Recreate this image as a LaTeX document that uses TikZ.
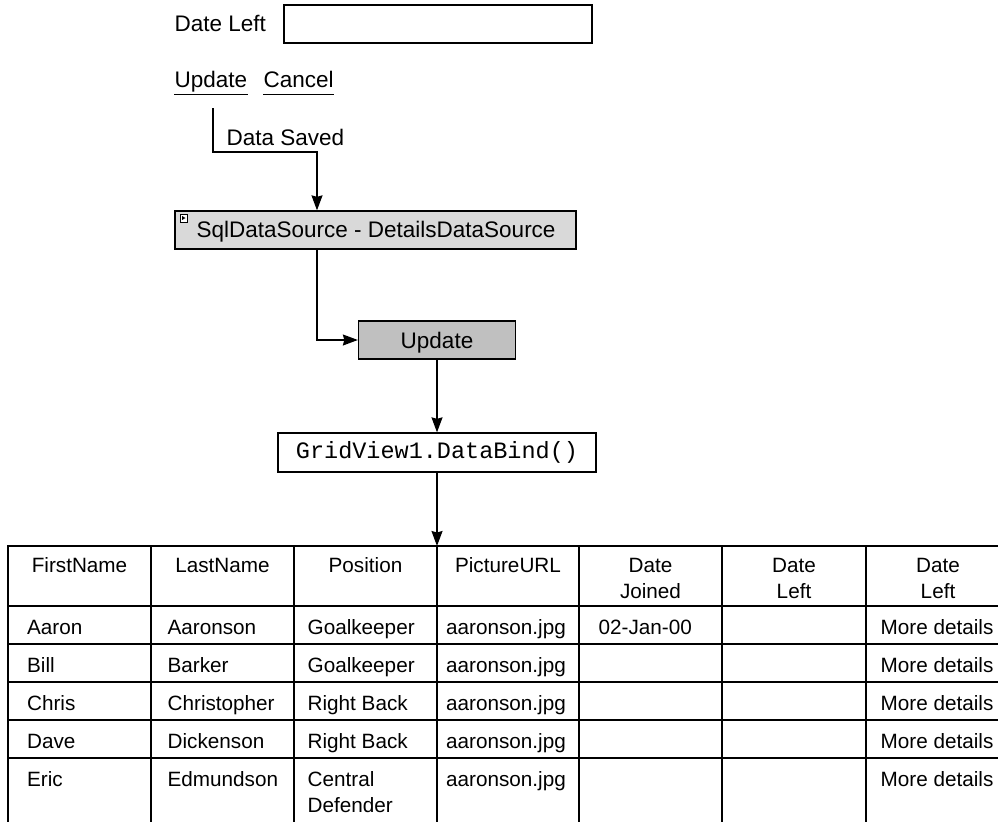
\documentclass[tikz,border=0pt]{standalone}
\usepackage{fontspec}
\setmainfont{Liberation Sans}
\setmonofont{Liberation Mono}
\usetikzlibrary{arrows.meta}
\definecolor{sqlgray}{RGB}{217,217,217}
\definecolor{updgray}{RGB}{192,192,192}
\begin{document}
\begin{tikzpicture}[x=1pt,y=-1pt, line width=1.3pt,
  toptxt/.style={font=\fontsize{22.5}{27}\selectfont, inner sep=0pt},
  tab/.style={font=\fontsize{20.7}{26}\selectfont, inner sep=0pt},
  box/.style={draw, inner sep=0pt},
  conn/.style={-{Stealth[length=15pt,width=11pt,inset=1.5pt]}, line width=1.3pt}]
\useasboundingbox (0,0) rectangle (998,822);

% --- top form ---
\node[toptxt, anchor=base west] (dl) at (174,31.7) {Date Left};
\node[box, minimum width=308pt, minimum height=38pt] (dlbox) at (438,24) {};
\node[toptxt, anchor=base west] (lupd) at (174,87.7) {Update};
\node[toptxt, anchor=base west] (lcan) at (263,87.7) {Cancel};
\draw[line width=1pt] ([yshift=-6.3pt]lupd.base west) -- ([yshift=-6.3pt]lupd.base east);
\draw[line width=1pt] ([yshift=-6.3pt]lcan.base west) -- ([yshift=-6.3pt]lcan.base east);

\coordinate (lk) at (213,108);
\coordinate (j1) at (317,152);

% --- SqlDataSource ---
\node[box, fill=sqlgray, minimum width=401pt, minimum height=38pt] (sql) at (375.5,230) {};
\node[toptxt, anchor=base west] (sqlt) at (196,237) {SqlDataSource - DetailsDataSource};
\node[draw, fill=white, line width=0.6pt, minimum width=7pt, minimum height=8pt, inner sep=0pt] (ico) at (183.5,218) {};
\fill ([shift={(-1.4,-2)}]ico.center) -- ([shift={(2,0)}]ico.center) -- ([shift={(-1.4,2)}]ico.center) -- cycle;

\draw[conn] (lk) |- (j1) -- (j1 |- sql.north);
\node[toptxt, anchor=base west] (ds) at (226,145) {Data Saved};

% --- Update ---
\node[box, fill=updgray, minimum width=157pt, minimum height=38pt, toptxt, text height=16pt, text depth=0pt] (upd) at (437,340) {Update};
\draw[conn] (sql.south -| j1) |- (upd.west);

% --- GridView ---
\node[box, fill=white, minimum width=318pt, minimum height=39pt, font=\ttfamily\fontsize{23.5}{28}\selectfont, text height=11pt, text depth=0pt] (gv) at (437,452.5) {GridView1.DataBind()};
\draw[conn] (upd.south) -- (gv.north);
\coordinate (tabtop) at (437,546);
\draw[conn] (gv.south) -- (tabtop);

% --- table grid ---
\foreach \x in {8,151,294,437,579,722,866} \draw (\x,545.35) -- (\x,822);
\foreach \y in {546,606,644,682,720,758} \draw (7.35,\y) -- (998,\y);

% header
\node[tab, anchor=base] (h1) at (79.5,572) {FirstName};
\node[tab, anchor=base] (h2) at (222.5,572) {LastName};
\node[tab, anchor=base] (h3) at (365.5,572) {Position};
\node[tab, anchor=base] (h4) at (508,572) {PictureURL};
\node[tab, anchor=base] (h5a) at (650.5,572) {Date};
\node[tab, anchor=base] (h5b) at (650.5,598) {Joined};
\node[tab, anchor=base] (h6a) at (794,572) {Date};
\node[tab, anchor=base] (h6b) at (794,598) {Left};
\node[tab, anchor=base] (h7a) at (938,572) {Date};
\node[tab, anchor=base] (h7b) at (938,598) {Left};

% rows
\foreach \fn/\ln/\pos/\yy [count=\r] in {Aaron/Aaronson/Goalkeeper/634, Bill/Barker/Goalkeeper/672, Chris/Christopher/Right Back/710, Dave/Dickenson/Right Back/748, Eric/Edmundson/Central/786} {
  \node[tab, anchor=base west] (fn\r) at (26.5,\yy) {\fn};
  \node[tab, anchor=base west] (ln\r) at (167,\yy) {\ln};
  \node[tab, anchor=base west] (ps\r) at (307,\yy) {\pos};
  \node[tab, anchor=base west] (pu\r) at (445.5,\yy) {aaronson.jpg};
  \node[tab, anchor=base west] (md\r) at (880,\yy) {More details};
}
\node[tab, anchor=base west] (ps5b) at (307,812) {Defender};
\node[tab, anchor=base west] (dj1) at (598,634) {02-Jan-00};
\end{tikzpicture}
\end{document}
